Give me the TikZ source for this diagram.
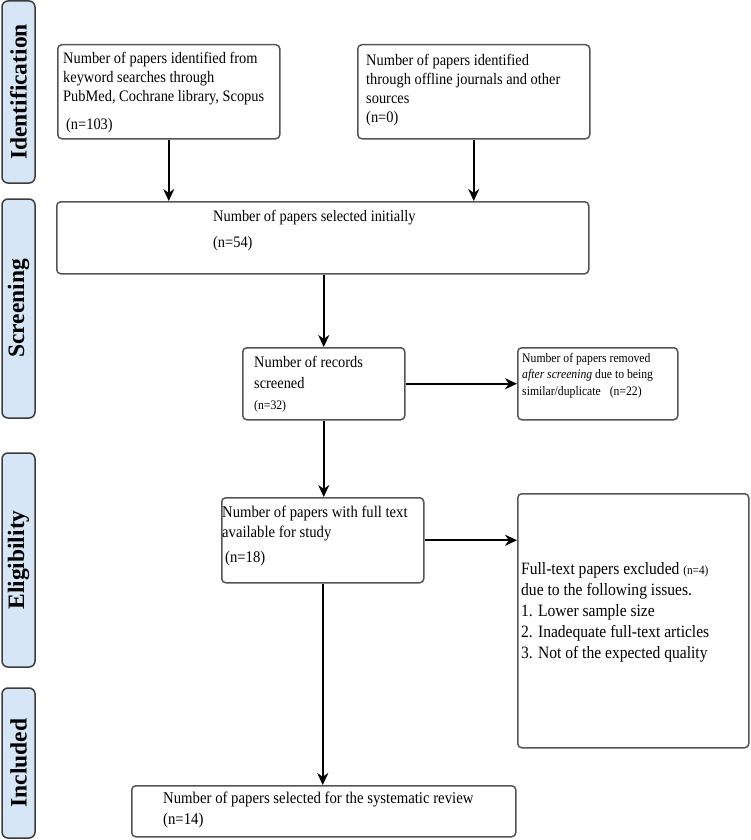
\documentclass[tikz,border=0pt]{standalone}
\usepackage{fontspec}
\setmainfont{Liberation Serif}
\newfontfamily\tallserif[FakeStretch=0.9]{Liberation Serif}
\usetikzlibrary{arrows.meta}
\definecolor{sideblue}{RGB}{214,230,246}
\definecolor{edgegray}{RGB}{85,85,85}
\begin{document}
\begin{tikzpicture}[x=1pt,y=-1pt,
 box/.style={draw=edgegray, line width=1.5pt, rounded corners=4pt, fill=white, inner sep=0pt, anchor=north west},
 side/.style={draw=edgegray!70!black, line width=1.5pt, rounded corners=6pt, fill=sideblue, inner sep=0pt, rotate=90, font=\fontsize{23.5}{23.5}\selectfont\bfseries},
 txt/.style={inner sep=0pt, anchor=north west, align=left, font=\tallserif\fontsize{16}{19}\selectfont},
 arr/.style={-{Stealth[length=12pt,width=11pt]}, line width=2pt}]
\useasboundingbox (0,0) rectangle (750,840);
% side labels
\node[side, minimum width=182pt, minimum height=33pt] (s1) at (18.5,92) {Identification};
\node[side, minimum width=219pt, minimum height=33pt] (s2) at (18.5,308.5) {Screening};
\node[side, minimum width=214pt, minimum height=33pt] (s3) at (18.5,560) {Eligibility};
\node[side, minimum width=150pt, minimum height=33pt] (s4) at (18.5,763) {Included};
% boxes
\node[box, minimum width=222pt, minimum height=94pt] (b1) at (57,44) {};
\node[box, minimum width=232pt, minimum height=94pt] (b2) at (357,44) {};
\node[box, minimum width=532pt, minimum height=72pt] (b3) at (56,201) {};
\node[box, minimum width=162pt, minimum height=72pt] (b4) at (242,347) {};
\node[box, minimum width=160pt, minimum height=72pt] (b5) at (517,347) {};
\node[box, minimum width=202pt, minimum height=85pt] (b6) at (221,497) {};
\node[box, minimum width=231pt, minimum height=254pt] (b7) at (517,493) {};
\node[box, minimum width=384pt, minimum height=51pt] (b8) at (131,785) {};
% texts
\node[txt] (t1) at (63,52) {Number of papers identified from\\ keyword searches through\\ PubMed, Cochrane library, Scopus\\[9pt] \hspace{3pt}(n=103)};
\node[txt] (t2) at (366,54) {Number of papers identified\\ through offline journals and other\\ sources\\ (n=0)};
\node[txt, font=\tallserif\fontsize{16}{26}\selectfont] (t3) at (213,210) {Number of papers selected initially\\ (n=54)};
\node[txt, font=\tallserif\fontsize{16}{21}\selectfont] (t4) at (254,356) {Number of records\\ screened\\ {\fontsize{13}{21}\selectfont (n=32)}};
\node[txt, font=\tallserif\fontsize{13}{16.5}\selectfont] (t5) at (522,353) {Number of papers removed\\ \textit{after screening} due to being\\ similar/duplicate\hspace{6pt} (n=22)};
\node[txt, font=\tallserif\fontsize{16.3}{20}\selectfont] (t6) at (222,506) {Number of papers with full text\\ available for study\\[5pt] \hspace{3pt}(n=18)};
\node[txt, font=\tallserif\fontsize{17.3}{21}\selectfont] (t7) at (521,562) {Full-text papers excluded {\fontsize{12.5}{21}\selectfont (n=4)}\\ due to the following issues.\\ 1. Lower sample size\\ 2. Inadequate full-text articles\\ 3. Not of the expected quality};
\node[txt, font=\tallserif\fontsize{16.4}{21}\selectfont] (t8) at (163,792) {Number of papers selected for the systematic review\\ (n=14)};
% arrows
\draw[arr] (b1.south) -- (b1.south |- b3.north);
\draw[arr] (b2.south) -- (b2.south |- b3.north);
\draw[arr] (b3.south -| b4.north) -- (b4.north);
\draw[arr] (b4.east) -- (b4.east -| b5.west);
\draw[arr] (b4.south) -- (b4.south |- b6.north);
\draw[arr] (b6.east) -- (b6.east -| b7.west);
\draw[arr] (b6.south) -- (b6.south |- b8.north);
\end{tikzpicture}
\end{document}
